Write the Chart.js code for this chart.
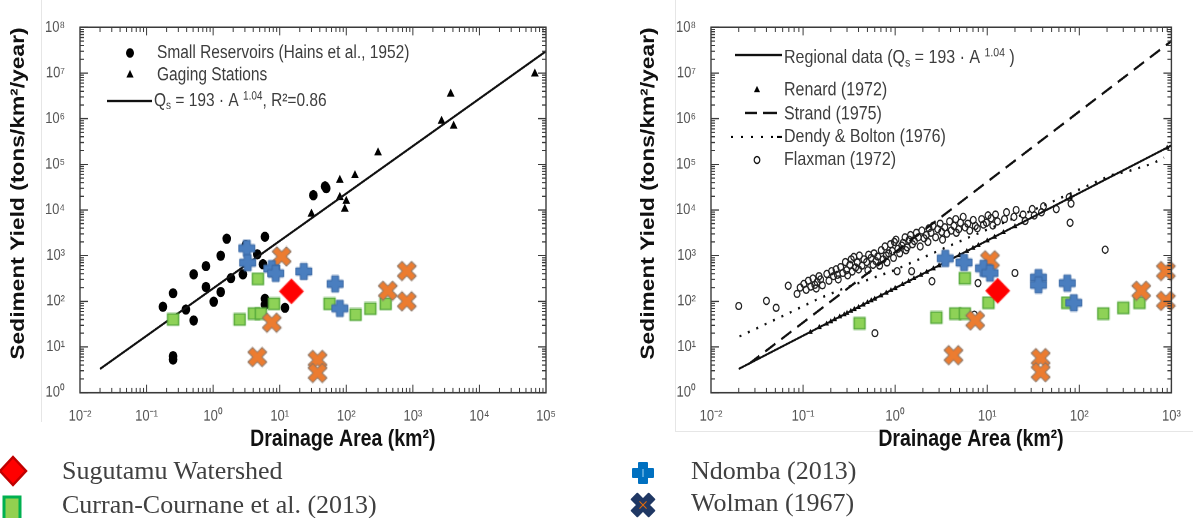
<!DOCTYPE html>
<html>
<head>
<meta charset="utf-8">
<script src="https://cdn.jsdelivr.net/npm/chart.js@4.4.1/dist/chart.umd.min.js"></script>
<style>
  html, body { margin: 0; padding: 0; background: #fff; }
  body { width: 1193px; height: 518px; position: relative; overflow: hidden; }
  .fig { position: absolute; top: 0; transform-origin: 0 0; }
  .rule { position: absolute; background: #e6e6e6; }
  .key { position: absolute; font-family: "Liberation Serif", "Times New Roman", serif; font-size: 26px; line-height: 26px; color: #404040; white-space: nowrap; }
  .icon { position: absolute; overflow: visible; }
</style>
</head>
<body>
<div class="rule" style="left:41px;top:0;width:1px;height:422px"></div>
<div class="rule" style="left:675px;top:0;width:1px;height:431px"></div>
<div class="rule" style="left:675px;top:431px;width:518px;height:1px"></div>

<div class="fig" id="figLeft" style="left:0"><canvas id="left"></canvas></div>
<div class="fig" id="figRight" style="left:600px"><canvas id="right"></canvas></div>

<svg class="icon" style="left:0;top:455px" width="28" height="32"><polygon points="13,2 26,16 13,30 0,16" fill="#ff0000" stroke="#c00000" stroke-width="2.5"/></svg>
<div class="key" style="left:62px;top:458px">Sugutamu Watershed</div>
<svg class="icon" style="left:0;top:494px" width="26" height="30"><rect x="4" y="3" width="16" height="24" fill="#92d050" stroke="#00b050" stroke-width="3"/></svg>
<div class="key" style="left:62px;top:492px">Curran-Cournane et al. (2013)</div>

<svg class="icon" style="left:632px;top:462px" width="22" height="22"><path d="M7,1 H15 V7 H21 V15 H15 V21 H7 V15 H1 V7 H7 Z" fill="#0070c0" stroke="#0070c0" stroke-width="2" stroke-linejoin="round"/><line x1="11" y1="7" x2="11" y2="15" stroke="#9fd4f5" stroke-width="1"/></svg>
<div class="key" style="left:691px;top:458px">Ndomba (2013)</div>
<svg class="icon" style="left:632px;top:494px" width="22" height="22"><g transform="rotate(45 11 11)"><path d="M7,-1 H15 V7 H23 V15 H15 V23 H7 V15 H-1 V7 H7 Z" fill="#203864" stroke="#203864" stroke-width="2" stroke-linejoin="round"/><line x1="11" y1="6" x2="11" y2="16" stroke="#e46c0a" stroke-width="1"/><line x1="6" y1="11" x2="16" y2="11" stroke="#e46c0a" stroke-width="1"/></g></svg>
<div class="key" style="left:691px;top:490px">Wolman (1967)</div>

<script>
// the source figure is stretched vertically; canvases are drawn short and scaled up
const S = 1.2;
const H = 460 / S;
const PLOT_TOP = 23;
const PLOT_BOTTOM = 393;
const FONT = '"Liberation Sans", Arial, sans-serif';
const NBSP = '\u00a0';

// tick labels
const yTicks = [1, 10, 100, 1e3, 1e4, 1e5, 1e6, 1e7, 1e8];
const leftXTicks = [0.01, 0.1, 1, 10, 100, 1e3, 1e4, 1e5];
const rightXTicks = [0.01, 0.1, 1, 10, 100, 1e3];

// left panel: Hains et al. (1952) small reservoirs and gaging stations
const reservoirArea = [0.176, 0.25, 0.25, 0.25, 0.39, 0.51, 0.51, 0.78, 0.78, 1.02, 1.3, 1.3, 1.6, 1.85, 2.8, 3.1, 4.6, 6, 5.6, 6, 6, 12, 32, 48, 50];
const reservoirYield = [76, 150, 6.3, 5.3, 66, 38, 390, 590, 205, 98, 1000, 160, 2350, 320, 390, 1700, 1070, 2600, 650, 113, 84, 72, 21000, 33000, 30000];
const gagingArea = [30, 80, 80, 100, 95, 135, 300, 2700, 3700, 4100, 68000];
const gagingYield = [8200, 45000, 19000, 15600, 10500, 57000, 180000, 890000, 3.5e6, 690000, 9.6e6];
const fitArea = [0.02, 1e5];
const fitYield = [3.3, 3.0e7];

// overlays on the left panel
const sugutamuLeftArea = [15];
const sugutamuLeftYield = [165];
const ndombaLeftArea = [3.2, 3.3, 7.6, 8.7, 23, 68, 80];
const ndombaLeftYield = [1450, 700, 520, 410, 450, 240, 70];
const wolmanLeftArea = [10.7, 7.6, 4.6, 37, 37, 420, 810, 810];
const wolmanLeftYield = [960, 34, 6, 5.2, 2.7, 170, 460, 100];
const curranLeftArea = [0.25, 2.5, 4.1, 5.2, 4.7, 8.2, 56, 138, 230, 390];
const curranLeftYield = [40, 40, 54, 54, 310, 88, 88, 51, 69, 88];

// right panel: regional relations and published data
const regionalArea = [0.02, 1000];
const regionalYield = [3.3, 2.6e5];
const strandArea = [0.026, 1000];
const strandYield = [4.3, 5e7];
const dendyArea = [0.0204, 0.0646, 0.145, 0.282, 0.537, 0.977, 6.31, 44.7, 219, 355, 631, 832];
const dendyYield = [17, 51, 112, 195, 309, 479, 2512, 13490, 57500, 72400, 104700, 141000];
const renardArea = [0.12, 0.15, 0.18, 0.2, 0.22, 0.25, 0.28, 0.3, 0.33, 0.36, 0.4, 0.45, 0.5, 0.55, 0.6, 0.7, 0.8, 0.9, 1, 1.2, 1.4, 1.6, 1.9, 2.2, 2.6, 3, 3.5, 4, 5, 6, 7, 8, 10, 12, 15, 20, 80, 900];
const renardYield = [21, 27, 32, 36, 40, 46, 51, 55, 61, 67, 74, 84, 94, 104, 113, 133, 153, 173, 193, 233, 274, 315, 376, 438, 521, 605, 710, 816, 1030, 1240, 1460, 1680, 2120, 2560, 3230, 4350, 18400, 228000];
const flaxmanArea = [0.020, 0.040, 0.051, 0.069, 0.086, 0.093, 0.102, 0.108, 0.114, 0.121,
  0.128, 0.134, 0.139, 0.142, 0.149, 0.155, 0.162, 0.181, 0.191, 0.204,
  0.214, 0.228, 0.236, 0.241, 0.256, 0.27, 0.288, 0.297, 0.305, 0.322,
  0.333, 0.341, 0.355, 0.372, 0.388, 0.401, 0.409, 0.436, 0.458, 0.49,
  0.505, 0.515, 0.548, 0.575, 0.603, 0.59, 0.618, 0.645, 0.678, 0.706,
  0.74, 0.775, 0.8, 0.815, 0.85, 0.89, 0.93, 0.96, 0.98, 1.02,
  1.07, 1.05, 1.12, 1.18, 1.22, 1.28, 1.31, 1.35, 1.42, 1.47,
  1.54, 1.51, 1.62, 1.7, 1.78, 1.87, 1.95, 2.06, 2.18, 2.27,
  2.33, 2.45, 2.51, 2.58, 2.75, 2.9, 3.08, 3.2, 3.27, 3.46,
  3.64, 3.9, 4.06, 4.35, 4.55, 4.62, 4.9, 5.12, 5.48, 5.75,
  6.15, 6.45, 7.24, 7.05, 7.42, 7.8, 7.94, 8.7, 9.1, 9.8,
  10.2, 11.0, 11.5, 12.3, 12.9, 15.4, 16.2, 20, 19.5, 20.6,
  24.5, 25.8, 30.8, 32.4, 38.8, 40.8, 56.2, 77.5, 81.3, 79.4, 191];
const flaxmanYield = [79, 102, 72, 219, 145, 200, 240, 178, 282, 209,
  316, 229, 191, 263, 355, 302, 224, 398, 282, 457,
  355, 501, 380, 302, 562, 417, 724, 479, 372, 631,
  832, 447, 933, 550, 708, 501, 1000, 603, 832, 724,
  479, 1047, 891, 631, 20, 1122, 759, 955, 603, 1318,
  832, 1585, 1000, 708, 1122, 1778, 1259, 891, 1995, 2239,
  1413, 457, 1122, 1660, 1905, 2512, 1318, 1514, 2239, 2818,
  1778, 457, 2089, 3162, 2512, 1585, 3548, 2399, 2818, 1995,
  3981, 3162, 275, 4467, 2512, 3802, 5012, 3311, 2239, 4169,
  3020, 5623, 3548, 4467, 6310, 3162, 3802, 5248, 7079, 4169,
  5012, 3548, 51, 6026, 4467, 3981, 251, 6310, 4786, 5248,
  7586, 6607, 4571, 7943, 5623, 6310, 8913, 417, 7079, 10000,
  7943, 5754, 10470, 7586, 8913, 12020, 10470, 19050, 13800, 5248, 1349];

// overlays on the right panel
const sugutamuRightArea = [13];
const sugutamuRightYield = [170];
const ndombaRightArea = [3.5, 5.6, 9.1, 10.7, 36, 36, 74, 87];
const ndombaRightYield = [870, 710, 530, 415, 330, 230, 250, 93];
const wolmanRightArea = [10.7, 7.4, 4.3, 38, 38, 470, 870, 870];
const wolmanRightYield = [790, 38, 6.6, 5.7, 2.8, 170, 460, 102];
const curranRightArea = [0.41, 2.8, 4.5, 5.7, 5.7, 10.3, 74, 182, 300, 450];
const curranRightYield = [33, 44, 54, 54, 320, 93, 93, 54, 72, 93];

const pts = (xs, ys) => xs.map((x, i) => ({ x, y: ys[i] }));

const SUP = { '-': '⁻', '0': '⁰', '1': '¹', '2': '²', '3': '³', '4': '⁴', '5': '⁵', '6': '⁶', '7': '⁷', '8': '⁸', '9': '⁹' };
const pow10Label = v => '10' + String(Math.round(Math.log10(v))).split('').map(c => SUP[c]).join('');

// marker images, squashed so they come out square after the vertical stretch
function markerCanvas(size, draw) {
  const c = document.createElement('canvas');
  c.width = size + 2;
  c.height = Math.round((size + 2) / S);
  const g = c.getContext('2d');
  g.scale(1, c.height / (size + 2));
  draw(g, (size + 2) / 2);
  return c;
}

function plusPath(g, c, half, arm) {
  const a = arm / 2;
  g.beginPath();
  g.moveTo(c - a, c - half); g.lineTo(c + a, c - half); g.lineTo(c + a, c - a); g.lineTo(c + half, c - a);
  g.lineTo(c + half, c + a); g.lineTo(c + a, c + a); g.lineTo(c + a, c + half); g.lineTo(c - a, c + half);
  g.lineTo(c - a, c + a); g.lineTo(c - half, c + a); g.lineTo(c - half, c - a); g.lineTo(c - a, c - a);
  g.closePath();
}

const diamondImg = markerCanvas(25, (g, c) => {
  g.beginPath();
  g.moveTo(c, c - 12.5); g.lineTo(c + 12.5, c); g.lineTo(c, c + 12.5); g.lineTo(c - 12.5, c);
  g.closePath();
  g.fillStyle = '#ff0000';
  g.fill();
});
const plusImg = markerCanvas(17, (g, c) => {
  plusPath(g, c, 8, 7);
  g.fillStyle = '#4a7ebf';
  g.fill();
  g.lineJoin = 'round';
  g.lineWidth = 1;
  g.strokeStyle = '#3a68a3';
  g.stroke();
});
const xImg = markerCanvas(19, (g, c) => {
  g.translate(c, c);
  g.rotate(Math.PI / 4);
  g.translate(-c, -c);
  plusPath(g, c, 10, 6.5);
  g.fillStyle = '#ec7c30';
  g.fill();
  g.lineJoin = 'round';
  g.lineWidth = 1;
  g.strokeStyle = '#8a7464';
  g.stroke();
});
const squareImg = markerCanvas(12, (g, c) => {
  g.fillStyle = '#8ed257';
  g.fillRect(c - 5.5, c - 5.5, 11, 11);
  g.lineWidth = 1.4;
  g.strokeStyle = '#55a83a';
  g.strokeRect(c - 5.5, c - 5.5, 11, 11);
});

const overlay = (label, xs, ys, img) => ({
  label, data: pts(xs, ys), pointStyle: img, pointRadius: 10, clip: false
});

// frame box with major and minor tick marks on all four sides
const frameTicks = {
  id: 'frameTicks',
  afterDraw(chart) {
    const { ctx, chartArea: a, scales: { x, y } } = chart;
    const each = (scale, cb) => {
      const lo = Math.round(Math.log10(scale.min));
      const hi = Math.round(Math.log10(scale.max));
      for (let e = lo; e < hi; e++) {
        for (let m = 1; m < 10; m++) cb(scale.getPixelForValue(m * Math.pow(10, e)), m === 1);
      }
      cb(scale.getPixelForValue(scale.max), true);
    };
    ctx.save();
    ctx.strokeStyle = '#3a3a3a';
    ctx.lineWidth = 1;
    ctx.beginPath();
    each(x, (px, major) => {
      const len = (major ? 8 : 4.5) / S;
      ctx.moveTo(px, a.bottom); ctx.lineTo(px, a.bottom - len);
      ctx.moveTo(px, a.top); ctx.lineTo(px, a.top + len);
    });
    each(y, (py, major) => {
      const len = major ? 8 : 4;
      ctx.moveTo(a.left, py); ctx.lineTo(a.left + len, py);
      ctx.moveTo(a.right, py); ctx.lineTo(a.right - len, py);
    });
    ctx.stroke();
    ctx.lineWidth = 1.4;
    ctx.strokeRect(a.left, a.top, a.right - a.left, a.bottom - a.top);
    ctx.restore();
  }
};

// text in runs of [text, size, shift]; y values are in page pixels
function textRuns(ctx, x, yPage, runs) {
  ctx.textBaseline = 'middle';
  ctx.textAlign = 'left';
  for (const [t, size, shift] of runs) {
    ctx.font = size + 'px ' + FONT;
    ctx.fillText(t, x, (yPage + (shift || 0)) / S);
    x += ctx.measureText(t).width;
  }
}

const leftKey = {
  id: 'leftKey',
  afterDraw(chart) {
    const ctx = chart.ctx;
    ctx.save();
    ctx.fillStyle = '#000';
    ctx.strokeStyle = '#111';
    ctx.beginPath();
    ctx.arc(130, 53 / S, 4, 0, Math.PI * 2);
    ctx.fill();
    Chart.helpers.drawPoint(ctx, { pointStyle: 'triangle', radius: 4.2, rotation: 0, borderWidth: 0 }, 130, 75 / S);
    ctx.lineWidth = 1.8;
    ctx.beginPath();
    ctx.moveTo(107, 101 / S); ctx.lineTo(152, 101 / S);
    ctx.stroke();
    ctx.fillStyle = '#3d3d3d';
    textRuns(ctx, 157, 53, [['Small Reservoirs (Hains et al., 1952)', 15.5]]);
    textRuns(ctx, 157, 75, [['Gaging Stations', 15.5]]);
    textRuns(ctx, 154, 101, [['Q', 15.5], ['s', 10, 5], [' = 193 · A ', 15.5], ['1.04', 10, -5], [', R²=0.86', 15.5]]);
    ctx.restore();
  }
};

const rightKey = {
  id: 'rightKey',
  afterDraw(chart) {
    const ctx = chart.ctx;
    const o = 600;
    ctx.save();
    ctx.fillStyle = '#000';
    ctx.strokeStyle = '#111';
    ctx.lineWidth = 1.8;
    ctx.beginPath();
    ctx.moveTo(735 - o, 55 / S); ctx.lineTo(782 - o, 55 / S);
    ctx.stroke();
    Chart.helpers.drawPoint(ctx, { pointStyle: 'triangle', radius: 3.5, rotation: 0, borderWidth: 0 }, 757 - o, 90 / S);
    ctx.lineWidth = 2;
    ctx.beginPath();
    ctx.moveTo(745 - o, 113 / S); ctx.lineTo(757 - o, 113 / S);
    ctx.moveTo(763 - o, 113 / S); ctx.lineTo(777 - o, 113 / S);
    ctx.stroke();
    for (const dx of [732, 742, 752, 762, 772]) ctx.fillRect(dx - 1 - o, (137 - 1) / S, 2, 2 / S);
    ctx.fillRect(777 - o, (137 - 1) / S, 5, 2 / S);
    ctx.lineWidth = 1.2;
    ctx.beginPath();
    ctx.arc(757 - o, 160 / S, 2.8, 0, Math.PI * 2);
    ctx.stroke();
    ctx.fillStyle = '#3d3d3d';
    textRuns(ctx, 784 - o, 58, [['Regional data (Q', 16], ['s', 10.5, 5], [' = 193 · A ', 16], ['1.04', 10.5, -5], [' )', 16]]);
    textRuns(ctx, 784 - o, 90, [['Renard (1972)', 16]]);
    textRuns(ctx, 784 - o, 114, [['Strand (1975)', 16]]);
    textRuns(ctx, 784 - o, 137, [['Dendy & Bolton (1976)', 16]]);
    textRuns(ctx, 784 - o, 160, [['Flaxman (1972)', 16]]);
    ctx.restore();
  }
};

function makeChart(id, opt) {
  const canvas = document.getElementById(id);
  canvas.width = opt.width;
  canvas.height = H;
  canvas.parentNode.style.transform = 'scaleY(' + S + ')';
  const tickFont = { family: FONT, size: 13 };
  const xTitleFont = { family: FONT, size: 19.5, weight: 'bold' };
  const yTitleFont = { family: FONT, size: 19, weight: 'bold' };
  return new Chart(canvas, {
    type: 'scatter',
    data: { datasets: opt.datasets },
    options: {
      responsive: false,
      devicePixelRatio: 2,
      animation: false,
      events: [],
      layout: { padding: { left: opt.padLeft, right: opt.padRight, top: PLOT_TOP / S, bottom: 0 } },
      plugins: { legend: { display: false }, tooltip: { enabled: false } },
      scales: {
        x: {
          type: 'logarithmic',
          min: opt.xTicks[0],
          max: opt.xTicks[opt.xTicks.length - 1],
          afterBuildTicks: ax => { ax.ticks = opt.xTicks.map(v => ({ value: v })); },
          afterFit: ax => { ax.height = H - PLOT_BOTTOM / S; },
          grid: { display: false, drawTicks: false },
          border: { display: false },
          ticks: {
            callback: v => pow10Label(v),
            font: tickFont, color: '#555', autoSkip: false, maxRotation: 0,
            padding: (417 - PLOT_BOTTOM) / S - 7.8
          },
          title: {
            display: true,
            text: NBSP.repeat(11) + 'Drainage Area (km²)',
            font: xTitleFont, color: '#111',
            padding: { top: 0, bottom: H - 440 / S - 11.7 }
          }
        },
        y: {
          type: 'logarithmic',
          min: yTicks[0],
          max: yTicks[yTicks.length - 1],
          afterBuildTicks: ax => { ax.ticks = yTicks.map(v => ({ value: v })); },
          afterFit: ax => { ax.width = opt.yAxisWidth; },
          grid: { display: false, drawTicks: false },
          border: { display: false },
          ticks: { callback: v => pow10Label(v), font: tickFont, color: '#555', autoSkip: false, padding: 15 },
          title: {
            display: true, align: 'end',
            text: 'Sediment Yield (tons/km²/year)',
            font: yTitleFont, color: '#111',
            padding: { top: opt.yTitlePad, bottom: 0 }
          }
        }
      }
    },
    plugins: [frameTicks, opt.key]
  });
}

makeChart('left', {
  width: 600, padLeft: 0, padRight: 54, yAxisWidth: 80, yTitlePad: 7.6,
  xTicks: leftXTicks, key: leftKey,
  datasets: [
    overlay('Sugutamu Watershed', sugutamuLeftArea, sugutamuLeftYield, diamondImg),
    overlay('Ndomba (2013)', ndombaLeftArea, ndombaLeftYield, plusImg),
    overlay('Wolman (1967)', wolmanLeftArea, wolmanLeftYield, xImg),
    overlay('Curran-Cournane et al. (2013)', curranLeftArea, curranLeftYield, squareImg),
    { label: 'Qs = 193 A^1.04', data: pts(fitArea, fitYield), showLine: true, borderColor: '#111', borderWidth: 1.8, pointRadius: 0, clip: false },
    { label: 'Gaging Stations', data: pts(gagingArea, gagingYield), pointStyle: 'triangle', pointRadius: 4.5, pointBackgroundColor: '#000', pointBorderWidth: 0, clip: false },
    { label: 'Small Reservoirs (Hains et al., 1952)', data: pts(reservoirArea, reservoirYield), pointStyle: 'circle', pointRadius: 4.3, pointBackgroundColor: '#000', pointBorderWidth: 0, clip: false }
  ]
});

makeChart('right', {
  width: 593, padLeft: 32, padRight: 14, yAxisWidth: 79, yTitlePad: 5.6,
  xTicks: rightXTicks, key: rightKey,
  datasets: [
    overlay('Sugutamu Watershed', sugutamuRightArea, sugutamuRightYield, diamondImg),
    overlay('Ndomba (2013)', ndombaRightArea, ndombaRightYield, plusImg),
    overlay('Wolman (1967)', wolmanRightArea, wolmanRightYield, xImg),
    overlay('Curran-Cournane et al. (2013)', curranRightArea, curranRightYield, squareImg),
    { label: 'Regional data', data: pts(regionalArea, regionalYield), showLine: true, borderColor: '#111', borderWidth: 1.8, pointRadius: 0 },
    { label: 'Strand (1975)', data: pts(strandArea, strandYield), showLine: true, borderColor: '#111', borderWidth: 2, borderDash: [12, 7], pointRadius: 0 },
    { label: 'Dendy & Bolton (1976)', data: pts(dendyArea, dendyYield), showLine: true, borderColor: '#111', borderWidth: 2, borderDash: [2, 7], pointRadius: 0 },
    { label: 'Renard (1972)', data: pts(renardArea, renardYield), pointStyle: 'triangle', pointRadius: 2.8, pointBackgroundColor: '#000', pointBorderWidth: 0, clip: false },
    { label: 'Flaxman (1972)', data: pts(flaxmanArea, flaxmanYield), pointStyle: 'circle', pointRadius: 2.9, pointBackgroundColor: 'rgba(0,0,0,0)', pointBorderColor: '#222', pointBorderWidth: 1.2, clip: false }
  ]
});
</script>
</body>
</html>
